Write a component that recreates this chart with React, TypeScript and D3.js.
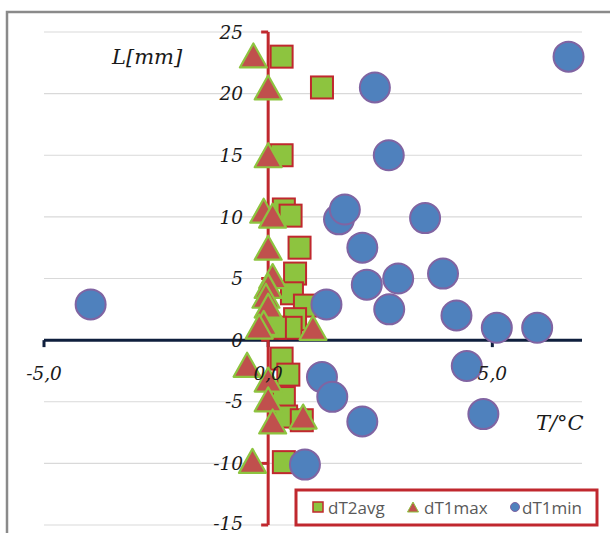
import React from "react";
import * as d3 from "d3";

const W = 610;
const H = 533;

// dT2avg (squares)
const avgX = [0.3, 1.2, 0.3, 0.35, 0.5, 0.7, 0.6, 0.53, 0.82, 0.6, 0.5, 0.15, 0.3, 0.45, 0.35, 0.4, 0.75, 0.35];
const avgY = [23, 20.5, 15, 10.6, 10.1, 7.5, 5.4, 3.8, 2.8, 1.7, 1.0, 1.0, -1.5, -2.8, -4.7, -6.2, -6.5, -9.9];
// dT1max (triangles)
const maxX = [-0.33, 0, 0, -0.1, 0.1, 0, 0.1, 0, -0.05, 0, -0.1, -0.2, 1.0, -0.47, 0, 0, 0.1, 0.78, -0.35];
const maxY = [23.1, 20.5, 15, 10.5, 10.1, 7.5, 5.2, 4.4, 3.6, 2.8, 1.4, 1.1, 1.0, -2.0, -3.2, -4.8, -6.6, -6.2, -9.8];
// dT1min (circles)
const minX = [6.7, 2.38, 2.69, 1.58, 1.71, 3.5, 2.1, 2.2, 2.9, 3.9, 1.3, 2.7, 4.2, 5.1, 6.0, -3.96, 1.2, 1.43, 2.1, 4.43, 4.8, 0.82];
const minY = [23, 20.5, 15, 9.8, 10.6, 9.9, 7.5, 4.5, 5.0, 5.4, 2.9, 2.5, 2.0, 1.0, 1.0, 2.9, -3.0, -4.6, -6.6, -2.1, -6.0, -10.1];

const yTicks = [25, 20, 15, 10, 5, 0, -5, -10, -15];
const xTicks = [-5, 0, 5];
const xTickLabels = ["-5,0", "0,0", "5,0"];
const legendLabels = ["dT2avg", "dT1max", "dT1min"];

const GREEN = "#8dc43f";
const RED = "#c0282e";
const TRI_RED = "#c0504d";
const BLUE = "#4f81bd";
const PURPLE = "#8064a2";
const SERIF = "'DejaVu Serif', 'Liberation Serif', serif";
const SANS = "'Open Sans', 'Liberation Sans', sans-serif";

function tri(cx: number, cy: number, w: number, h: number) {
  return `M${cx},${cy - h / 2} L${cx + w / 2},${cy + h / 2} L${cx - w / 2},${cy + h / 2} Z`;
}

export default function App() {
  const x = d3.scaleLinear().domain([-5, 7]).range([44, 582]);
  const y = d3.scaleLinear().domain([-15, 25]).range([525, 32]);
  const x0 = x(0);
  const y0 = y(0);

  const sq = 22;
  return (
    <svg width={W} height={H} style={{ position: "absolute", left: 0, top: 0, background: "#fff" }}>
      <rect x={7} y={12} width={620} height={540} fill="#fff" stroke="#8a8a8a" strokeWidth={2.5} />
      {yTicks.map((t) => (
        <line key={"g" + t} x1={44} x2={582} y1={y(t)} y2={y(t)} stroke="#d9d9d9" strokeWidth={1.2} />
      ))}
      {/* x axis */}
      <line x1={x(-5)} x2={582} y1={y0} y2={y0} stroke="#0f1f3d" strokeWidth={3} />
      {xTicks.map((t) => (
        <line key={"xt" + t} x1={x(t)} x2={x(t)} y1={y0} y2={y0 + 7} stroke="#0f1f3d" strokeWidth={3} />
      ))}
      {/* y axis */}
      <line x1={x0} x2={x0} y1={y(25)} y2={y(-15)} stroke={RED} strokeWidth={3} />
      {yTicks.map((t) => (
        <line key={"yt" + t} x1={x0 - 7} x2={x0} y1={y(t)} y2={y(t)} stroke={RED} strokeWidth={3} />
      ))}
      <text x={112} y={64} fontFamily={SERIF} fontStyle="italic" fontSize={21} fill="#1a1a1a">L[mm]</text>
      <text x={536} y={430} fontFamily={SERIF} fontStyle="italic" fontSize={21} fill="#1a1a1a">T/°C</text>

      {/* series */}
      {avgX.map((v, i) => (
        <rect key={"s" + i} x={x(v) - sq / 2} y={y(avgY[i]) - sq / 2} width={sq} height={sq} fill={GREEN} stroke={RED} strokeWidth={2} />
      ))}
      {maxX.map((v, i) => (
        <path key={"t" + i} d={tri(x(v), y(maxY[i]), 27, 24)} fill={TRI_RED} stroke={GREEN} strokeWidth={2.2} strokeLinejoin="round" />
      ))}
      {minX.map((v, i) => (
        <circle key={"c" + i} cx={x(v)} cy={y(minY[i])} r={15} fill={BLUE} stroke={PURPLE} strokeWidth={2} />
      ))}

      {/* tick labels drawn above markers */}
      {yTicks.map((t) => (
        <text key={"yl" + t} x={243} y={Math.min(y(t), 523)} dy="0.36em" textAnchor="end" fontFamily={SERIF} fontStyle="italic" fontSize={18.5} fill="#1a1a1a">
          {t}
        </text>
      ))}
      {xTicks.map((t, i) => (
        <text key={"xl" + t} x={x(t)} y={y0 + 40} textAnchor="middle" fontFamily={SERIF} fontStyle="italic" fontSize={18.5} fill="#1a1a1a">
          {xTickLabels[i]}
        </text>
      ))}

      {/* legend */}
      <rect x={296} y={490} width={301} height={35} fill="#fff" stroke={RED} strokeWidth={3} />
      <rect x={313} y={502} width={10} height={10} fill={GREEN} stroke={RED} strokeWidth={1.5} />
      <text x={328} y={513.5} fontFamily={SANS} fontSize={17} fill="#595959">{legendLabels[0]}</text>
      <path d={tri(413, 507, 11, 10)} fill={TRI_RED} stroke={GREEN} strokeWidth={1} />
      <text x={424} y={513.5} fontFamily={SANS} fontSize={17} fill="#595959">{legendLabels[1]}</text>
      <circle cx={515} cy={507} r={4.5} fill={BLUE} stroke={PURPLE} strokeWidth={1} />
      <text x={522} y={513.5} fontFamily={SANS} fontSize={17} fill="#595959">{legendLabels[2]}</text>
    </svg>
  );
}
